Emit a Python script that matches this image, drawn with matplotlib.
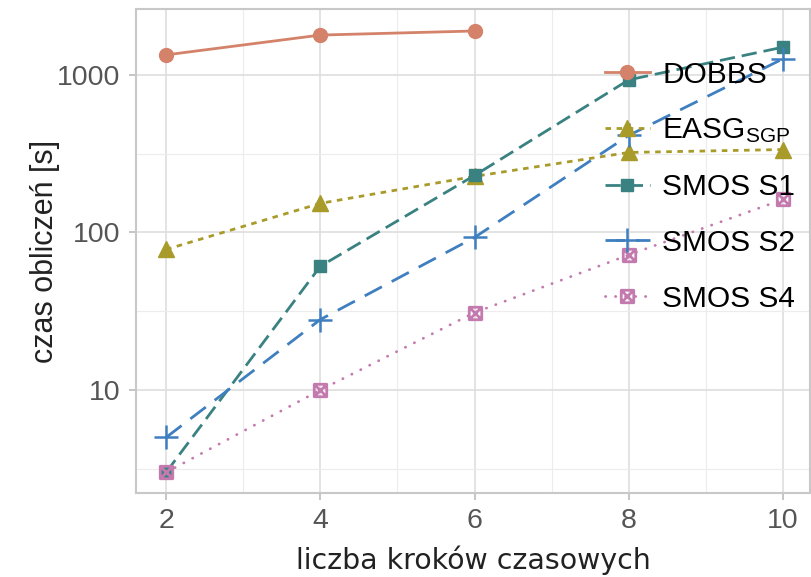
import matplotlib
matplotlib.use("Agg")
import matplotlib.pyplot as plt
from matplotlib.path import Path
from matplotlib.ticker import FixedLocator, NullFormatter

plt.rcParams.update({
    'font.family'      : ['Liberation Sans', 'DejaVu Sans'],
    'mathtext.fontset' : 'custom',
    'mathtext.rm'      : 'Liberation Sans',
    'mathtext.it'      : 'Liberation Sans',
})

# czas obliczeń w zależności od liczby kroków czasowych
kroki = [2, 4, 6, 8, 10]
dobbs = [1340, 1790, 1900]
easg = [78, 153, 227, 322, 336]
smos_s1 = [3.0, 61, 230, 930, 1500]
smos_s2 = [5.0, 28, 93, 413, 1265]
smos_s4 = [3.0, 10, 31, 72, 162]

# kwadrat z krzyżykiem
sq = [(-1, -1), (1, -1), (1, 1), (-1, 1), (-1, -1), (-1, -1), (1, 1), (-1, 1), (1, -1)]
codes = [Path.MOVETO, Path.LINETO, Path.LINETO, Path.LINETO, Path.CLOSEPOLY,
         Path.MOVETO, Path.LINETO, Path.MOVETO, Path.LINETO]
sq_x = Path(sq, codes)

fig = plt.figure(figsize=(8.12, 5.77), dpi=100)
ax = fig.add_axes([0.1675, 0.1456, 0.8300, 0.8388])

lw = 2.0
ax.plot(kroki[:3], dobbs, color='#d4826a', lw=lw, marker='o', ms=10,
        label='DOBBS')
ax.plot(kroki, easg, color='#a89b2a', lw=lw, ls=(0, (2.0, 2.0)), marker='^', ms=11,
        label=r'EASG$_{\mathrm{SGP}}$')
ax.plot(kroki, smos_s1, color='#3a8282', lw=lw, ls=(0, (5.5, 2.5)), marker='s', ms=9,
        label='SMOS S1')
ax.plot(kroki, smos_s2, color='#3f7fc0', lw=lw, ls=(0, (7, 4)), marker='+', ms=17,
        mew=1.8, label='SMOS S2')
ax.plot(kroki, smos_s4, color='#c47aae', lw=lw, ls=(0, (0.1, 3.5)), dash_capstyle='round',
        marker=sq_x, ms=9, mew=2.0, mfc='none', label='SMOS S4')

ax.set_yscale('log')
ax.set_xlim(1.61, 10.35)
ax.set_ylim(2.22, 2620)
ax.set_xticks([2, 4, 6, 8, 10])
ax.xaxis.set_minor_locator(FixedLocator([3, 5, 7, 9]))
ax.set_yticks([10, 100, 1000])
ax.set_yticklabels(['10', '100', '1000'])
ax.yaxis.set_minor_locator(FixedLocator([3.162, 31.62, 316.2]))
ax.yaxis.set_minor_formatter(NullFormatter())

ax.grid(True, which='major', color='#dedede', lw=1.2)
ax.grid(True, which='minor', color='#ececec', lw=0.8)
ax.set_axisbelow(True)
for s in ax.spines.values():
    s.set_color('#c8c8c8')
    s.set_linewidth(1.5)
ax.tick_params(which='major', length=5, width=1.2, color='#bbbbbb',
               labelsize=20.5, labelcolor='#555555', pad=6)
ax.tick_params(which='minor', length=0)

ax.set_xlabel('liczba kroków czasowych', fontsize=20.4, color='#222222',
              family='DejaVu Sans', va='top')
ax.xaxis.set_label_coords(0.5, -0.108)
ax.set_ylabel('czas obliczeń [s]', fontsize=22, color='#222222')
ax.yaxis.set_label_coords(-0.113, 0.5)

ax.legend(loc='upper left', bbox_to_anchor=(0.696, 0.893), frameon=False,
          fontsize=21.5, handlelength=1.5, handletextpad=0.42, labelspacing=0.93,
          borderpad=0, borderaxespad=0)

fig.savefig('out.png', dpi=100)
